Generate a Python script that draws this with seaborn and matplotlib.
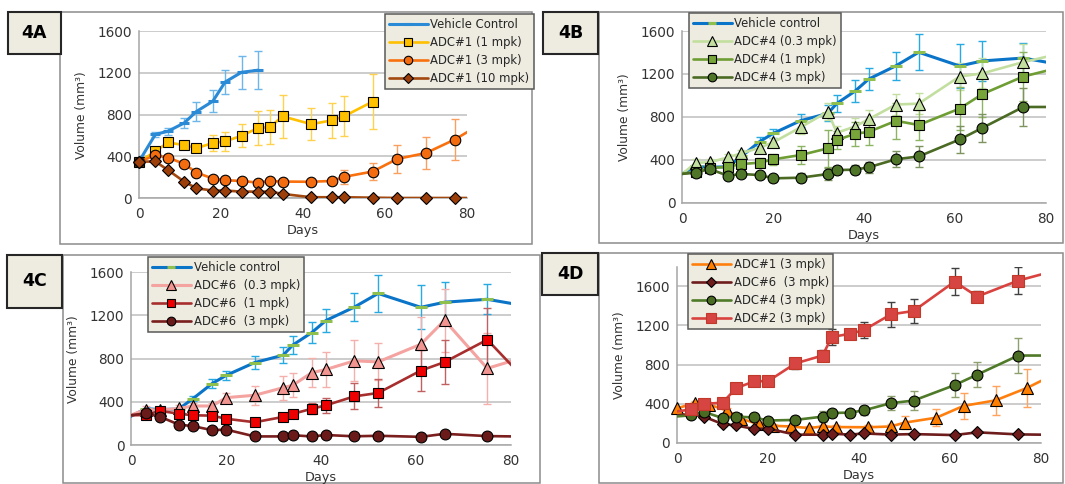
import matplotlib
matplotlib.use("Agg")
import matplotlib.pyplot as plt
from matplotlib.patches import Rectangle
from matplotlib.legend_handler import HandlerTuple
import seaborn as sns

# ---------------- data ----------------
# Panel 4A
a_days = [0, 4, 7, 11, 14, 18, 21, 25, 29, 32, 35, 42, 47, 50, 57, 63, 70, 77, 84]
a_veh_days = [0, 4, 7, 11, 14, 18, 21, 25, 29]
a_vehicle = [352, 612, 640, 720, 830, 928, 1112, 1205, 1225]
a_vehicle_err = [0, 25, 32, 45, 95, 105, 115, 156, 182]
a_adc1_1_days = [0, 4, 7, 11, 14, 18, 21, 25, 29, 32, 35, 42, 47, 50, 57]
a_adc1_1 = [350, 448, 534, 509, 480, 528, 544, 598, 672, 682, 784, 709, 745, 784, 925]
a_adc1_1_err = [0, 20, 30, 40, 40, 73, 87, 112, 160, 167, 207, 155, 170, 192, 264]
a_adc1_3 = [350, 410, 390, 330, 246, 189, 173, 166, 150, 166, 160, 158, 166, 205, 256, 377, 433, 562, 725]
a_adc1_3_err = [0, 20, 20, 20, 20, 20, 20, 20, 20, 20, 20, 20, 30, 67, 85, 136, 152, 195, 0]
a_adc1_10 = [350, 352, 272, 160, 96, 74, 74, 64, 64, 64, 42, 10, 10, 10, 6, 3, 3, 3, 3]

# Panels 4B / 4C / 4D share the same schedule
bc_days = [-3, 3, 6, 10, 13, 17, 20, 26, 32, 34, 38, 41, 47, 52, 61, 66, 75, 84]
vehicle = [202, 338, 330, 335, 431, 569, 646, 764, 832, 925, 1040, 1152, 1276, 1402, 1274, 1321, 1348, 1280]
vehicle_err = [0, 0, 0, 0, 20, 40, 40, 60, 75, 80, 100, 105, 128, 168, 202, 190, 140, 0]

b_adc4_03 = [165, 373, 376, 422, 460, 513, 562, 702, 848, 652, 710, 778, 915, 923, 1176, 1205, 1310, 1398]
b_adc4_03_err = [0, 30, 30, 30, 30, 40, 40, 60, 80, 60, 80, 90, 100, 100, 130, 140, 170, 0]
b_adc4_1 = [250, 289, 320, 336, 360, 373, 404, 444, 506, 584, 642, 660, 763, 724, 877, 1012, 1176, 1270]
b_adc4_1_err = [0, 30, 30, 30, 40, 40, 50, 80, 170, 80, 110, 120, 170, 140, 200, 210, 230, 0]
b_adc4_3 = [258, 280, 314, 252, 267, 258, 227, 233, 267, 304, 308, 330, 405, 431, 589, 697, 892, 892]
b_adc4_3_err = [0, 25, 25, 25, 25, 25, 30, 40, 60, 40, 40, 50, 75, 95, 125, 130, 180, 0]

c_adc6_03 = [230, 330, 325, 340, 363, 363, 440, 462, 532, 554, 670, 700, 780, 770, 933, 1154, 710, 830]
c_adc6_03_err = [0, 30, 30, 30, 30, 30, 40, 90, 110, 110, 135, 160, 190, 170, 250, 290, 330, 0]
c_adc6_1 = [273, 280, 318, 292, 277, 274, 245, 213, 262, 290, 337, 369, 452, 483, 690, 768, 975, 560]
c_adc6_1_err = [0, 30, 30, 30, 30, 30, 30, 30, 40, 40, 50, 70, 120, 130, 190, 200, 290, 0]
c_adc6_3 = [262, 295, 265, 191, 177, 140, 145, 82, 82, 93, 82, 95, 83, 88, 78, 106, 85, 80]
c_adc6_3_err = [0, 15, 15, 15, 15, 15, 15, 15, 15, 15, 15, 15, 15, 15, 15, 15, 15, 0]

d_adc2 = [300, 340, 398, 409, 558, 629, 629, 811, 892, 1081, 1115, 1151, 1313, 1348, 1648, 1496, 1659, 1771]
d_adc2_err = [0, 20, 20, 20, 20, 20, 20, 60, 60, 80, 40, 80, 130, 123, 138, 60, 140, 0]

x_ticks = [0, 20, 40, 60, 80]
y_ticks = [0, 400, 800, 1200, 1600]

# ---------------- style ----------------
sns.set_theme(style="white")
plt.rcParams["font.family"] = ["DejaVu Sans"]

W, H = 1065, 484
fig = plt.figure(figsize=(W / 100, H / 100), dpi=100)
fig.patch.set_facecolor("white")


def px_rect(x0, y0, x1, y1):
    return (x0 / W, 1 - y1 / H, (x1 - x0) / W, (y1 - y0) / H)


def add_axes(x0, y0, x1, y1):
    l, b, w, h = px_rect(x0, y0, x1, y1)
    return fig.add_axes([l, b, w, h])


def series(ax, x, y, color, marker, mfc, mec="black", ms=7, lw=1.9, mew=0.8,
           err=None, ecolor=None):
    # connecting line (clipped to the plotting area)
    sns.lineplot(x=x, y=y, ax=ax, color=color, lw=lw, estimator=None, sort=False, zorder=3)
    line = ax.lines[-1]
    # error bars
    if err is not None:
        xe = [xx for xx, e in zip(x, err) if e > 0]
        ye = [yy for yy, e in zip(y, err) if e > 0]
        ee = [e for e in err if e > 0]
        ax.errorbar(xe, ye, yerr=ee, fmt="none", ecolor=ecolor or color,
                    elinewidth=1.0, capsize=3.2, capthick=1.0, zorder=2)
    # markers for the visible time points (not clipped at the axis edges)
    xin = [xx for xx in x if 0 <= xx <= 80]
    yin = [yy for xx, yy in zip(x, y) if 0 <= xx <= 80]
    sns.lineplot(x=xin, y=yin, ax=ax, color=color, linestyle="none", marker=marker,
                 markersize=ms, markerfacecolor=mfc, markeredgecolor=mec,
                 markeredgewidth=mew, estimator=None, sort=False, zorder=3)
    marks = ax.lines[-1]
    marks.set_clip_on(False)
    return (line, marks)


def style_axes(ax, ymax=1600):
    ax.set_xlim(0, 80)
    ax.set_ylim(0, ymax)
    ax.set_xticks(x_ticks)
    ax.set_yticks(y_ticks)
    ax.grid(axis="y", color="#bfbfbf", lw=1.1)
    ax.grid(axis="x", visible=False)
    ax.set_axisbelow(True)
    ax.set_facecolor("white")
    for s in ["top", "right"]:
        ax.spines[s].set_visible(False)
    for s in ["left", "bottom"]:
        ax.spines[s].set_color("#a6a6a6")
        ax.spines[s].set_linewidth(1.1)
    ax.tick_params(axis="x", length=3.5, width=1.0, color="#a6a6a6", direction="out",
                   labelsize=9.8, labelcolor="#333333", pad=3)
    ax.tick_params(axis="y", length=0, labelsize=9.8, labelcolor="#333333", pad=5)
    ax.set_xlabel("Days", fontsize=9.3, color="#333333", labelpad=2)
    ax.set_ylabel("Volume (mm³)", fontsize=8.8, color="#333333", labelpad=7)


def legend(ax, handles, labels, x0, y0):
    lg = ax.legend(handles, labels, loc="upper left",
                   bbox_to_anchor=(x0 / W, 1 - y0 / H), bbox_transform=fig.transFigure,
                   handler_map={tuple: HandlerTuple(ndivide=1, pad=0)},
                   frameon=True, fancybox=False, edgecolor="#595959", facecolor="#eeece1",
                   framealpha=1, fontsize=8.4, handlelength=3.3, labelspacing=0.42,
                   borderpad=0.35, handletextpad=0.25, borderaxespad=0, markerscale=0.8,
                   numpoints=1)
    lg.get_frame().set_linewidth(1.1)
    for t in lg.get_texts():
        t.set_color("#262626")
    lg.set_zorder(10)


def panel_box(x0, y0, x1, y1):
    l, b, w, h = px_rect(x0, y0, x1, y1)
    fig.add_artist(Rectangle((l, b), w, h, transform=fig.transFigure, fill=False,
                             edgecolor="#8c8c8c", lw=1.1, zorder=-1))


def label_box(x0, y0, x1, y1, text):
    l, b, w, h = px_rect(x0, y0, x1, y1)
    fig.add_artist(Rectangle((l, b), w, h, transform=fig.transFigure, facecolor="#eeece1",
                             edgecolor="#262626", lw=1.5, zorder=5))
    fig.text(l + w / 2, b + h / 2, text, ha="center", va="center", fontsize=12.5,
             fontweight="bold", color="black", zorder=6)


# outer boxes and panel labels
panel_box(60, 12, 532, 244)
panel_box(599, 12, 1063, 243)
panel_box(63, 255, 540, 483)
panel_box(599, 253, 1063, 483)
label_box(8, 12, 61, 54, "4A")
label_box(543, 12, 598, 54, "4B")
label_box(7, 255, 62, 308, "4C")
label_box(542, 253, 598, 295, "4D")

# ---------------- 4A ----------------
axA = add_axes(139, 31, 467, 198.3)
style_axes(axA)
hA = [
    series(axA, a_veh_days, a_vehicle, "#2b8ad6", "_", "#2b8ad6", mec="#2b8ad6", ms=7.5,
           mew=2.2, lw=2.2, err=a_vehicle_err, ecolor="#6db6ea"),
    series(axA, a_adc1_1_days, a_adc1_1, "#ffc000", "s", "#ffc000", ms=7.8,
           err=a_adc1_1_err, ecolor="#ffd24d"),
    series(axA, a_days, a_adc1_3, "#f9700e", "o", "#f36c10", ms=7.6,
           err=a_adc1_3_err, ecolor="#f9a060"),
    series(axA, a_days, a_adc1_10, "#a3480f", "D", "#9c3f0a", ms=6.3),
]
legend(axA, hA, ["Vehicle Control", "ADC#1 (1 mpk)", "ADC#1 (3 mpk)", "ADC#1 (10 mpk)"], 385, 14)

# ---------------- 4B ----------------
axB = add_axes(682.3, 31, 1046, 202.7)
style_axes(axB)
hB = [
    series(axB, bc_days, vehicle, "#0a74c8", "_", "#8fbf4d", mec="#8fbf4d", ms=8,
           mew=2.2, lw=2.2, err=vehicle_err, ecolor="#27a9e1"),
    series(axB, bc_days, b_adc4_03, "#c3df9f", "^", "#c3df9f", ms=8.2,
           err=b_adc4_03_err, ecolor="#c3df9f"),
    series(axB, bc_days, b_adc4_1, "#6e9e33", "s", "#78a53a", ms=7.8,
           err=b_adc4_1_err, ecolor="#8db462"),
    series(axB, bc_days, b_adc4_3, "#4b6b24", "o", "#4f7628", ms=7.8,
           err=b_adc4_3_err, ecolor="#7d9460"),
]
legend(axB, hB, ["Vehicle control", "ADC#4 (0.3 mpk)", "ADC#4 (1 mpk)", "ADC#4 (3 mpk)"], 689, 13)

# ---------------- 4C ----------------
axC = add_axes(131.3, 272, 511, 445.3)
style_axes(axC)
hC = [
    series(axC, bc_days, vehicle, "#0a74c8", "_", "#8fbf4d", mec="#8fbf4d", ms=8,
           mew=2.2, lw=2.2, err=vehicle_err, ecolor="#27a9e1"),
    series(axC, bc_days, c_adc6_03, "#f4a3a0", "^", "#f29591", ms=8.2, lw=2.2,
           err=c_adc6_03_err, ecolor="#f4b0ad"),
    series(axC, bc_days, c_adc6_1, "#a82e2e", "s", "#ee0000", ms=7.8,
           err=c_adc6_1_err, ecolor="#c06060"),
    series(axC, bc_days, c_adc6_3, "#7a1e1e", "o", "#6b1a1a", ms=7.8,
           err=c_adc6_3_err, ecolor="#7a1e1e"),
]
legend(axC, hC, ["Vehicle control", "ADC#6  (0.3 mpk)", "ADC#6  (1 mpk)", "ADC#6  (3 mpk)"], 148, 257)

# ---------------- 4D ----------------
axD = add_axes(677, 266.8, 1041, 442.7)
style_axes(axD, ymax=1800)
hD = [
    series(axD, a_days, a_adc1_3, "#ff7f0e", "^", "#ff8000", ms=8.2,
           err=a_adc1_3_err, ecolor="#ffa35c"),
    series(axD, bc_days, c_adc6_3, "#6e1c1c", "D", "#6e1c1c", ms=6.3,
           err=c_adc6_3_err, ecolor="#6e1c1c"),
    series(axD, bc_days, b_adc4_3, "#4f7a28", "o", "#4a6b22", ms=7.8,
           err=b_adc4_3_err, ecolor="#8ea06e"),
    series(axD, bc_days, d_adc2, "#d9423f", "s", "#d64541", mec="#c0392b", ms=8.2,
           err=d_adc2_err, ecolor="#404040"),
]
legend(axD, hD, ["ADC#1 (3 mpk)", "ADC#6  (3 mpk)", "ADC#4 (3 mpk)", "ADC#2 (3 mpk)"], 688, 254)

fig.savefig("out.png", dpi=100)
